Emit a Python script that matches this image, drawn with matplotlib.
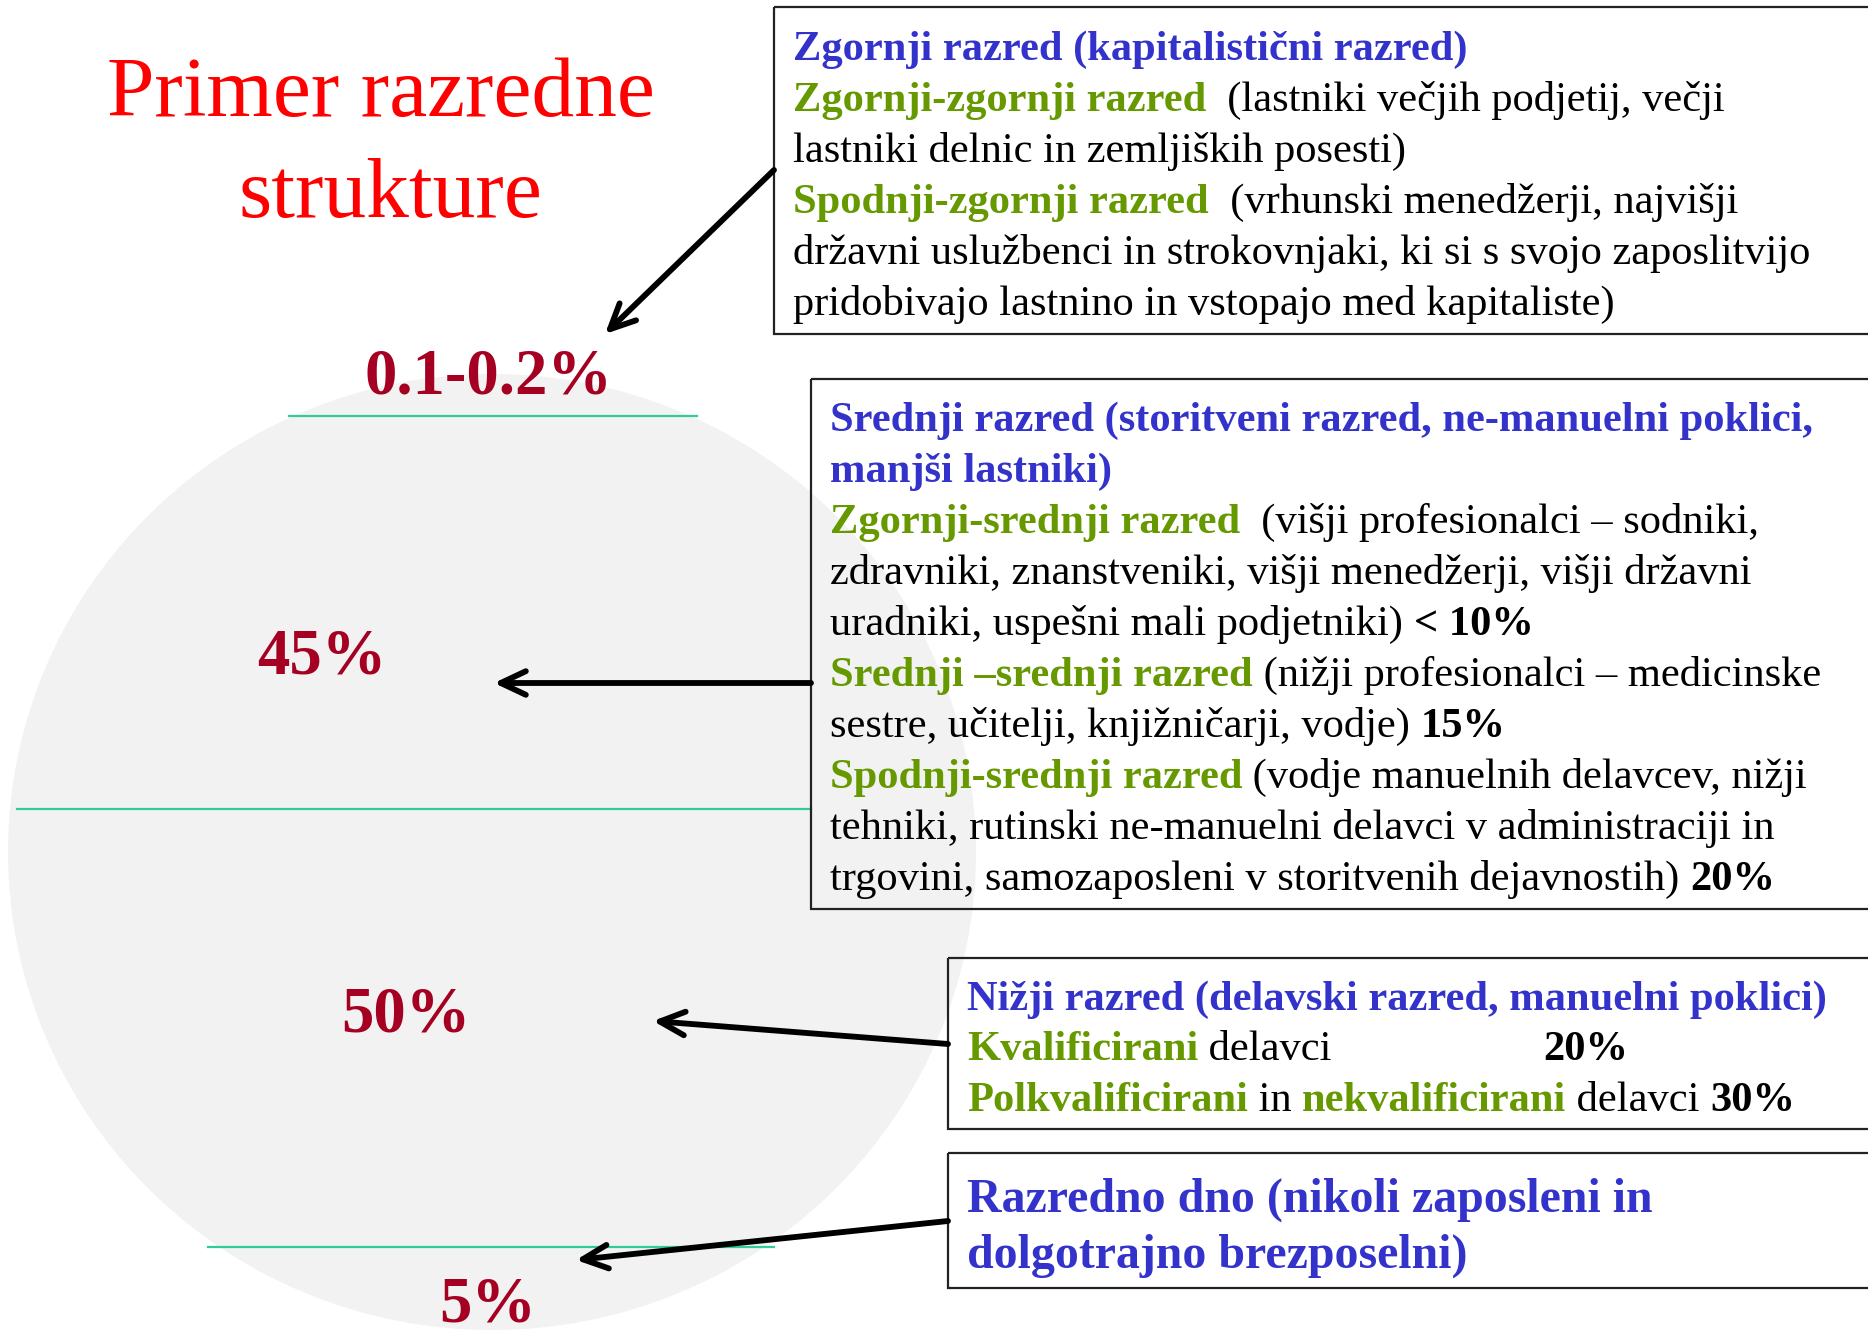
import matplotlib.pyplot as plt
from matplotlib.patches import Ellipse, Rectangle

# figure pixels = data units (1868 x 1333, y down)
W, H = 1868, 1333
SERIF = ["Liberation Serif", "DejaVu Serif"]

BLUE = "#3333CC"
GREEN = "#669900"
DARKRED = "#A50021"

title_lines = ["Primer razredne", "strukture"]

# delez posameznega razreda in kje stoji napis
shares = ["0.1-0.2%", "45%", "50%", "5%"]
share_xy = [(488, 393), (322, 673), (406, 1032), (488, 1322)]

# meje med razredi (y, x0, x1)
borders_y = [416, 809, 1247]
borders_x = [(289, 697), (17, 811), (208, 774)]

# besedilo v okvirjih: vrstice iz (besedilo, slog)
box1_lines = [
    [("Zgornji razred (kapitalistični razred)", "blue")],
    [("Zgornji-zgornji razred", "green"), ("  (lastniki večjih podjetij, večji", "txt")],
    [("lastniki delnic in zemljiških posesti)", "txt")],
    [("Spodnji-zgornji razred", "green"), ("  (vrhunski menedžerji, najvišji", "txt")],
    [("državni uslužbenci in strokovnjaki, ki si s svojo zaposlitvijo", "txt")],
    [("pridobivajo lastnino in vstopajo med kapitaliste)", "txt")],
]
box2_lines = [
    [("Srednji razred (storitveni razred, ne-manuelni poklici,", "blue")],
    [("manjši lastniki)", "blue")],
    [("Zgornji-srednji razred", "green"), ("  (višji profesionalci – sodniki,", "txt")],
    [("zdravniki, znanstveniki, višji menedžerji, višji državni", "txt")],
    [("uradniki, uspešni mali podjetniki) ", "txt"), ("< 10%", "bold")],
    [("Srednji –srednji razred", "green"), (" (nižji profesionalci – medicinske", "txt")],
    [("sestre, učitelji, knjižničarji, vodje) ", "txt"), ("15%", "bold")],
    [("Spodnji-srednji razred", "green"), (" (vodje manuelnih delavcev, nižji", "txt")],
    [("tehniki, rutinski ne-manuelni delavci v administraciji in", "txt")],
    [("trgovini, samozaposleni v storitvenih dejavnostih) ", "txt"), ("20%", "bold")],
]
box3_lines = [
    [("Nižji razred (delavski razred, manuelni poklici)", "blue")],
    [("Kvalificirani", "green"), (" delavci", "txt")],
    [("Polkvalificirani", "green"), (" in ", "txt"), ("nekvalificirani", "green"),
     (" delavci ", "txt"), ("30%", "bold")],
]
box3_tab = "20%"
box4_lines = [
    [("Razredno dno (nikoli zaposleni in", "blue")],
    [("dolgotrajno brezposelni)", "blue")],
]

STYLE = {
    "blue": (BLUE, "bold"),
    "green": (GREEN, "bold"),
    "txt": ("black", "normal"),
    "bold": ("black", "bold"),
}

fig = plt.figure(figsize=(W / 100, H / 100), dpi=100)
ax = fig.add_axes([0, 0, 1, 1])
ax.set_xlim(0, W)
ax.set_ylim(H, 0)
ax.axis("off")
renderer = fig.canvas.get_renderer()


def text_width(s, size, weight):
    # sirina z vmesnimi presledki (meri z oznakama na robovih)
    t1 = ax.text(0, 0, "|" + s + "|", fontsize=size, fontweight=weight, family=SERIF)
    t2 = ax.text(0, 0, "||", fontsize=size, fontweight=weight, family=SERIF)
    w = t1.get_window_extent(renderer).width - t2.get_window_extent(renderer).width
    t1.remove()
    t2.remove()
    return w


def put_lines(x0, y0, step, lines, size):
    for i, runs in enumerate(lines):
        x = x0
        y = y0 + i * step
        for s, kind in runs:
            color, weight = STYLE[kind]
            ax.text(x, y, s, color=color, fontweight=weight, fontsize=size,
                    family=SERIF, va="baseline", ha="left")
            x += text_width(s, size, weight)


# krog v ozadju
ax.add_patch(Ellipse((492, 852), 968, 956, facecolor="#F2F2F2", edgecolor="none", zorder=0))

for y, (x0, x1) in zip(borders_y, borders_x):
    ax.plot([x0, x1], [y, y], color="#33CC99", lw=1.6, zorder=1)

# naslov
ax.text(381, 116, title_lines[0], color="red", fontsize=61.5, family=SERIF,
        ha="center", va="baseline")
ax.text(390, 217, title_lines[1], color="red", fontsize=61.5, family=SERIF,
        ha="center", va="baseline")

for lab, (x, y) in zip(shares, share_xy):
    ax.text(x, y, lab, color=DARKRED, fontsize=46.5, fontweight="bold", family=SERIF,
            ha="center", va="baseline")

# okvirji (prozorni)
boxes = [(774, 7, 1100, 327), (811, 379, 1060, 530), (948, 958, 925, 171), (948, 1153, 925, 135)]
for bx, by, bw, bh in boxes:
    ax.add_patch(Rectangle((bx, by), bw, bh, facecolor="none", edgecolor="#222222",
                           lw=1.6, zorder=2))

put_lines(793, 60, 51, box1_lines, 30.6)
put_lines(830, 431, 51, box2_lines, 30.6)
put_lines(967, 1010, 50.5, box3_lines, 30.6)
ax.text(1543, 1060.5, box3_tab, color="black", fontweight="bold", fontsize=30.6,
        family=SERIF, va="baseline", ha="left")
put_lines(967, 1212, 56, box4_lines, 34.5)

# puscice od okvirjev do deležev
arrows = [((774, 170), (605, 334)), ((811, 683), (494, 683)),
          ((948, 1044), (653, 1021)), ((948, 1221), (576, 1260))]
for start, end in arrows:
    ax.annotate("", xy=end, xytext=start,
                arrowprops=dict(arrowstyle="->,head_length=1.8,head_width=0.85",
                                color="black", lw=4.2, shrinkA=0, shrinkB=0))

plt.savefig("out.png", dpi=100)
